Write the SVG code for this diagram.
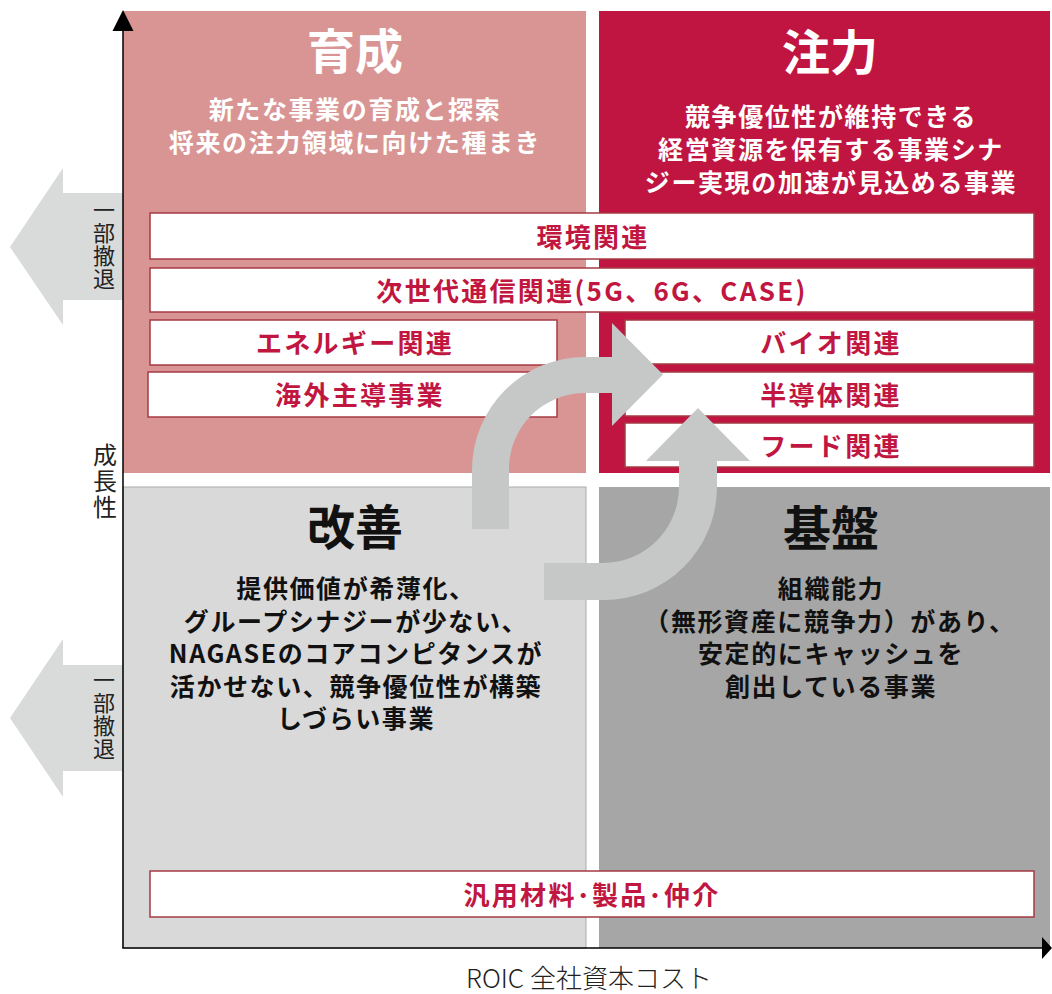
<svg xmlns="http://www.w3.org/2000/svg" width="1052" height="994" viewBox="0 0 1052 994">
<style>
text{font-family:"Noto Sans CJK JP","Noto Sans",sans-serif;}
.title{font-size:48px;font-weight:700;text-anchor:middle;}
.sub{font-size:25px;font-weight:700;text-anchor:middle;letter-spacing:1.6px;}
.w{fill:#ffffff;}
.k{fill:#111111;}
.box rect{fill:#ffffff;stroke:#A63A44;stroke-width:1.5;}
.box text{font-size:26px;font-weight:700;fill:#C0163F;text-anchor:middle;letter-spacing:2.3px;}
.side{fill:#222222;font-weight:400;writing-mode:vertical-rl;}
.retreat{fill:#D9DADA;}
.cycle{fill:#C6C8C7;}
.axis{stroke:#000;stroke-width:1.5;fill:none;}
.head{fill:#000;}
</style>

<g id="retreat-arrows">
<polygon class="retreat" points="10,247 63,168 63,193 123,193 123,300 63,300 63,325"/>
<polygon class="retreat" points="10,718 63,639 63,665 123,665 123,771 63,771 63,797"/>
</g>

<g id="q-ikusei">
<rect x="123" y="11" width="463" height="462" fill="#D99594"/>
<text class="title w" x="355" y="69">育成</text>
<text class="sub w" x="355" y="118.5">新たな事業の育成と探索</text>
<text class="sub w" x="355" y="151.5">将来の注力領域に向けた種まき</text>
</g>

<g id="q-chuuryoku">
<rect x="599" y="11" width="451" height="462" fill="#BF1540"/>
<text class="title w" x="830" y="70">注力</text>
<text class="sub w" x="831" y="125.5">競争優位性が維持できる</text>
<text class="sub w" x="831" y="158.5">経営資源を保有する事業シナ</text>
<text class="sub w" x="831" y="191.5">ジー実現の加速が見込める事業</text>
</g>

<g id="q-kaizen">
<rect x="123" y="487" width="463" height="461" fill="#D9D9D9" stroke="#ABABAB" stroke-width="1"/>
<text class="title k" x="355" y="545">改善</text>
<text class="sub k" x="356" y="598">提供価値が希薄化、</text>
<text class="sub k" x="356" y="630.5">グループシナジーが少ない、</text>
<text class="sub k" x="356" y="663">NAGASEのコアコンピタンスが</text>
<text class="sub k" x="356" y="695.5">活かせない、競争優位性が構築</text>
<text class="sub k" x="356" y="728">しづらい事業</text>
</g>

<g id="q-kiban">
<rect x="599" y="487" width="451" height="461" fill="#A6A6A6"/>
<text class="title k" x="831" y="546">基盤</text>
<text class="sub k" x="831" y="598">組織能力</text>
<text class="sub k" x="830" y="630.5">（無形資産に競争力）があり、</text>
<text class="sub k" x="831" y="663">安定的にキャッシュを</text>
<text class="sub k" x="831" y="695.5">創出している事業</text>
</g>

<g id="box-kankyo" class="box"><rect x="150" y="213" width="884" height="46"/><text x="593" y="246.5">環境関連</text></g>
<g id="box-jisedai" class="box"><rect x="150" y="268" width="884" height="44"/><text x="592" y="300.5">次世代通信関連(5G、6G、CASE)</text></g>
<g id="box-energy" class="box"><rect x="150" y="320" width="407" height="45"/><text x="355" y="353">エネルギー関連</text></g>
<g id="box-kaigai" class="box"><rect x="148" y="372" width="409" height="45"/><text x="360" y="405">海外主導事業</text></g>
<g id="box-bio" class="box"><rect x="625" y="320" width="409" height="44"/><text x="831" y="352.5">バイオ関連</text></g>
<g id="box-semi" class="box"><rect x="625" y="372" width="409" height="44"/><text x="831" y="404.5">半導体関連</text></g>
<g id="box-food" class="box"><rect x="625" y="423" width="409" height="44"/><text x="831" y="455.5">フード関連</text></g>
<g id="box-hanyou" class="box"><rect x="150" y="871" width="884" height="46"/><text x="592" y="904.5">汎用材料･製品･仲介</text></g>

<g id="connectors">
<path class="cycle" d="M472,529 L472,470 A113,113 0 0 1 585,357 L612,357 L612,323 L663,374.5 L612,426 L612,393 L585,393 A76,76 0 0 0 509,470 L509,529 Z"/>
<path class="cycle" d="M544,563 L603,563 A76,76 0 0 0 679,487 L679,461 L646,461 L698,408 L750,461 L717,461 L717,487 A113,113 0 0 1 603,600 L544,600 Z"/>
<line class="axis" x1="123" y1="948" x2="123" y2="30"/>
<polygon class="head" points="112.5,31 123,10 133.5,31"/>
<line class="axis" x1="122.3" y1="948" x2="1043" y2="948"/>
<polygon class="head" points="1042,937 1052,948 1042,959"/>
</g>

<g id="axis-labels">
<text class="side" x="104" y="198.5" style="font-size:22px;letter-spacing:1px">一部撤退</text>
<text class="side" x="104" y="669" style="font-size:22px;letter-spacing:1px">一部撤退</text>
<text class="side" x="105" y="442.5" style="font-size:24px;letter-spacing:2px">成長性</text>
<text x="589" y="988" style="font-size:26px;font-weight:300;fill:#222;text-anchor:middle">ROIC 全社資本コスト</text>
</g>
</svg>
